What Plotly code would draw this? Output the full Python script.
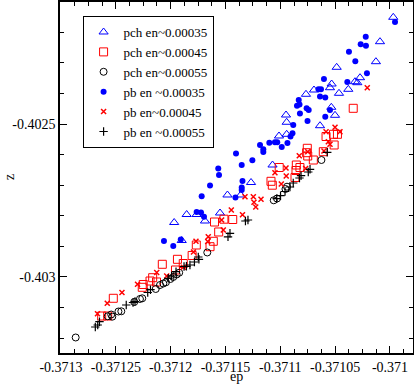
import plotly.graph_objects as go

# pch en~0.00035 (blue open triangles)
pch35_ep = [-0.3709970, -0.3710091, -0.3710128, -0.3710486, -0.3710532, -0.3710547, -0.3710693,
            -0.3710766, -0.3710319, -0.3710298, -0.3710273, -0.3710380, -0.3710465, -0.3710535,
            -0.3710501, -0.3710948, -0.3710942, -0.3710638, -0.3711012, -0.3710942, -0.3711071,
            -0.3711267, -0.3711482, -0.3711361, -0.3711550, -0.3711854, -0.3711763, -0.3711687,
            -0.3711968, -0.3711899]
pch35_z = [-0.4021513, -0.4022310, -0.4022964, -0.4023147, -0.4023693, -0.4023814, -0.4023889,
           -0.4024029, -0.4023618, -0.4023650, -0.4023487, -0.4023866, -0.4023997, -0.4024454,
           -0.4024716, -0.4024706, -0.4024944, -0.4025056, -0.4025392, -0.4025337, -0.4026340,
           -0.4026912, -0.4027320, -0.4027320, -0.4027909, -0.4027958, -0.4027958, -0.4028170,
           -0.4028219, -0.4028807]

# pch en~0.00045 (red open squares)
pch45_ep = [-0.3710335, -0.3710583, -0.3710515, -0.3710479, -0.3710509, -0.3710608, -0.3710754,
            -0.3710760, -0.3710750, -0.3710699, -0.3711010, -0.3710854, -0.3710857, -0.3710821,
            -0.3710866, -0.3711085, -0.3711073, -0.3711514, -0.3711434, -0.3711600, -0.3711562,
            -0.3711611, -0.3711641, -0.3711766, -0.3711804, -0.3711938, -0.3711885, -0.3712076,
            -0.3711956, -0.3712164, -0.3712188, -0.3712129, -0.3712250, -0.3712259, -0.3712523,
            -0.3712629, -0.3712574]
pch45_z = [-0.4024487, -0.4025409, -0.4025337, -0.4025337, -0.4025686, -0.4025905, -0.4025794,
           -0.4025938, -0.4026046, -0.4026177, -0.4026422, -0.4026340, -0.4026520, -0.4026422,
           -0.4026748, -0.4026873, -0.4027000, -0.4028111, -0.4028121, -0.4028203, -0.4028529,
           -0.4028833, -0.4029010, -0.4028954, -0.4029297, -0.4029422, -0.4029559, -0.4029585,
           -0.4029771, -0.4030023, -0.4030131, -0.4030163, -0.4030245, -0.4030337, -0.4030696,
           -0.4031275, -0.4031275]

# pch en~0.00055 (black open circles)
pch55_ep = [-0.3712866, -0.3712574, -0.3712542, -0.3712532, -0.3712476, -0.3712450, -0.3712332,
            -0.3712280, -0.3712259, -0.3712136, -0.3712097, -0.3712067, -0.3712043, -0.3712002,
            -0.3711976, -0.3711945, -0.3711922, -0.3711666, -0.3711060, -0.3711030, -0.3710953,
            -0.3710939, -0.3710625]
pch55_z = [-0.4031977, -0.4031284, -0.4031226, -0.4031297, -0.4031128, -0.4031121, -0.4030817,
           -0.4030719, -0.4030696, -0.4030392, -0.4030262, -0.4030213, -0.4030173, -0.4030065,
           -0.4030000, -0.4029918, -0.4029860, -0.4029199, -0.4027494, -0.4027435, -0.4027124,
           -0.4027049, -0.4026177]

# pb en ~0.00035 (blue filled)
pb35_ep = [-0.3709954, -0.3710221, -0.3710267, -0.3710219, -0.3710374, -0.3710316, -0.3710210,
           -0.3710389, -0.3710602, -0.3710652, -0.3710629, -0.3710638, -0.3710590, -0.3710832,
           -0.3710848, -0.3710825, -0.3710760, -0.3710741, -0.3710821, -0.3710547, -0.3710590,
           -0.3710752, -0.3710882, -0.3710889, -0.3710907, -0.3710935, -0.3710987, -0.3711028,
           -0.3711049, -0.3711100, -0.3711185, -0.3711155, -0.3711155, -0.3711255, -0.3711352,
           -0.3711404, -0.3711566, -0.3711559, -0.3711641, -0.3711345, -0.3711352, -0.3711352,
           -0.3711409, -0.3711717, -0.3711763, -0.3711723, -0.3711696, -0.3712061, -0.3711976,
           -0.3711908]
pb35_z = [-0.4021667, -0.4022147, -0.4022395, -0.4022441, -0.4022637, -0.4022951, -0.4023343,
          -0.4023627, -0.4023529, -0.4023866, -0.4023866, -0.4024101, -0.4024134, -0.4024216,
          -0.4024402, -0.4024363, -0.4024487, -0.4024542, -0.4024657, -0.4024542, -0.4024761,
          -0.4024902, -0.4025033, -0.4025304, -0.4025409, -0.4025621, -0.4025752, -0.4025598,
          -0.4025598, -0.4025611, -0.4025686, -0.4025827, -0.4025915, -0.4026186, -0.4026340,
          -0.4025964, -0.4026454, -0.4026667, -0.4027010, -0.4026863, -0.4027075, -0.4027157,
          -0.4027402, -0.4027363, -0.4027876, -0.4027892, -0.4028029, -0.4028824, -0.4028987,
          -0.4028775]

# pb en~0.00045 (red x)
pb45_ep = [-0.3710207, -0.3710456, -0.3710501, -0.3710583, -0.3710562, -0.3710547, -0.3710602,
           -0.3710750, -0.3710827, -0.3710769, -0.3710948, -0.3710946, -0.3710991, -0.3711049,
           -0.3711176, -0.3711246, -0.3711240, -0.3711224, -0.3711322, -0.3711345, -0.3711447,
           -0.3711520, -0.3711535, -0.3711657, -0.3711662, -0.3711769, -0.3711792, -0.3711885,
           -0.3712036, -0.3712127, -0.3712302, -0.3712444, -0.3712578, -0.3712667]
pb45_z = [-0.4023814, -0.4025252, -0.4025108, -0.4025252, -0.4025578, -0.4025663, -0.4025882,
          -0.4025905, -0.4026036, -0.4026454, -0.4026438, -0.4026699, -0.4026961, -0.4026592,
          -0.4027461, -0.4027376, -0.4027559, -0.4027712, -0.4027376, -0.4027964, -0.4027810,
          -0.4028464, -0.4028137, -0.4028686, -0.4028840, -0.4028833, -0.4029183, -0.4029683,
          -0.4029967, -0.4029853, -0.4030239, -0.4030507, -0.4030860, -0.4031199]

# pb en ~0.00055 (black plus)
pb55_ep = [-0.3712687, -0.3712665, -0.3712649, -0.3712405, -0.3712343, -0.3712325, -0.3712209,
           -0.3712184, -0.3712022, -0.3711991, -0.3711951, -0.3711878, -0.3711856, -0.3711824,
           -0.3711783, -0.3711748, -0.3711742, -0.3711477, -0.3711459, -0.3711318, -0.3711295,
           -0.3711033, -0.3710998, -0.3710957, -0.3710912, -0.3710882, -0.3710825, -0.3710811,
           -0.3710745, -0.3710729, -0.3710572]
pb55_z = [-0.4031634, -0.4031569, -0.4031461, -0.4030915, -0.4030833, -0.4030801, -0.4030507,
          -0.4030415, -0.4030043, -0.4029967, -0.4029827, -0.4029657, -0.4029650, -0.4029608,
          -0.4029510, -0.4029346, -0.4029422, -0.4028686, -0.4028572, -0.4028170, -0.4028137,
          -0.4027441, -0.4027343, -0.4027206, -0.4027059, -0.4026928, -0.4026765, -0.4026690,
          -0.4026569, -0.4026480, -0.4025925]

x_tickvals = [-0.3713, -0.37125, -0.3712, -0.37115, -0.3711, -0.37105, -0.371]
x_ticktext = ["-0.3713", "-0.37125", "-0.3712", "-0.37115", "-0.3711", "-0.37105", "-0.371"]
y_tickvals = [-0.4025, -0.403]
y_ticktext = ["-0.4025", "-0.403"]

FONT = "Liberation Serif"

series = [
    ("pch en~0.00035", pch35_ep, pch35_z, dict(symbol="triangle-up-open", size=8, color="#0000ff", line=dict(width=1))),
    ("pch en~0.00045", pch45_ep, pch45_z, dict(symbol="square-open", size=8, color="#ff0000", line=dict(width=1))),
    ("pch en~0.00055", pch55_ep, pch55_z, dict(symbol="circle-open", size=7, color="#000000", line=dict(width=1))),
    ("pb en ~0.00035", pb35_ep, pb35_z, dict(symbol="circle", size=6, color="#0000ff")),
    ("pb en~0.00045", pb45_ep, pb45_z, dict(symbol="x-thin-open", size=5, color="#ff0000", line=dict(width=1.5, color="#ff0000"))),
    ("pb en ~0.00055", pb55_ep, pb55_z, dict(symbol="cross-thin-open", size=6, color="#000000", line=dict(width=1.2, color="#000000"))),
]

fig = go.Figure()
for name, xs, ys, marker in series:
    fig.add_trace(go.Scatter(x=xs, y=ys, mode="markers", name=name, marker=marker))

fig.update_layout(
    width=414, height=385,
    margin=dict(l=60, r=1, t=2, b=32, autoexpand=False),
    plot_bgcolor="white", paper_bgcolor="white",
    font=dict(family=FONT, size=14, color="black"),
    showlegend=True,
    legend=dict(x=0.064, y=0.96, xanchor="left", yanchor="top",
                bordercolor="black", borderwidth=1, bgcolor="white",
                font=dict(family=FONT, size=13), itemwidth=30,
                tracegroupgap=0),
    annotations=[
        dict(text="ep", xref="paper", yref="paper", x=0.501, y=-0.0905,
             xanchor="center", yanchor="bottom", borderpad=0,
             showarrow=False, font=dict(family=FONT, size=14)),
        dict(text="z", xref="paper", yref="paper", x=-0.145, y=0.501, textangle=-90,
             xanchor="center", yanchor="middle", borderpad=0,
             showarrow=False, font=dict(family=FONT, size=14)),
    ],
)

axis_common = dict(showgrid=False, zeroline=False, showline=True, linecolor="black",
                   linewidth=1.5, mirror="allticks", ticks="inside", ticklen=7,
                   tickwidth=1, tickcolor="black", automargin=False,
                   tickfont=dict(family=FONT, size=14))

fig.update_xaxes(range=[-0.3713009, -0.3709790], tickmode="array",
                 tickvals=x_tickvals, ticktext=x_ticktext,
                 minor=dict(tickmode="linear", tick0=-0.3713, dtick=0.0000125,
                            ticks="inside", ticklen=4, tickcolor="black"),
                 **axis_common)
fig.update_yaxes(range=[-0.4032484, -0.4021013], tickmode="array",
                 tickvals=y_tickvals, ticktext=y_ticktext,
                 minor=dict(tickmode="linear", tick0=-0.403, dtick=0.0001,
                            ticks="inside", ticklen=4, tickcolor="black"),
                 **axis_common)

# page body has a default 8px margin; remove it so the figure sits at (0, 0)
fig.write_html("out.html", config={"displayModeBar": False},
               post_script="document.body.style.margin='0';")
